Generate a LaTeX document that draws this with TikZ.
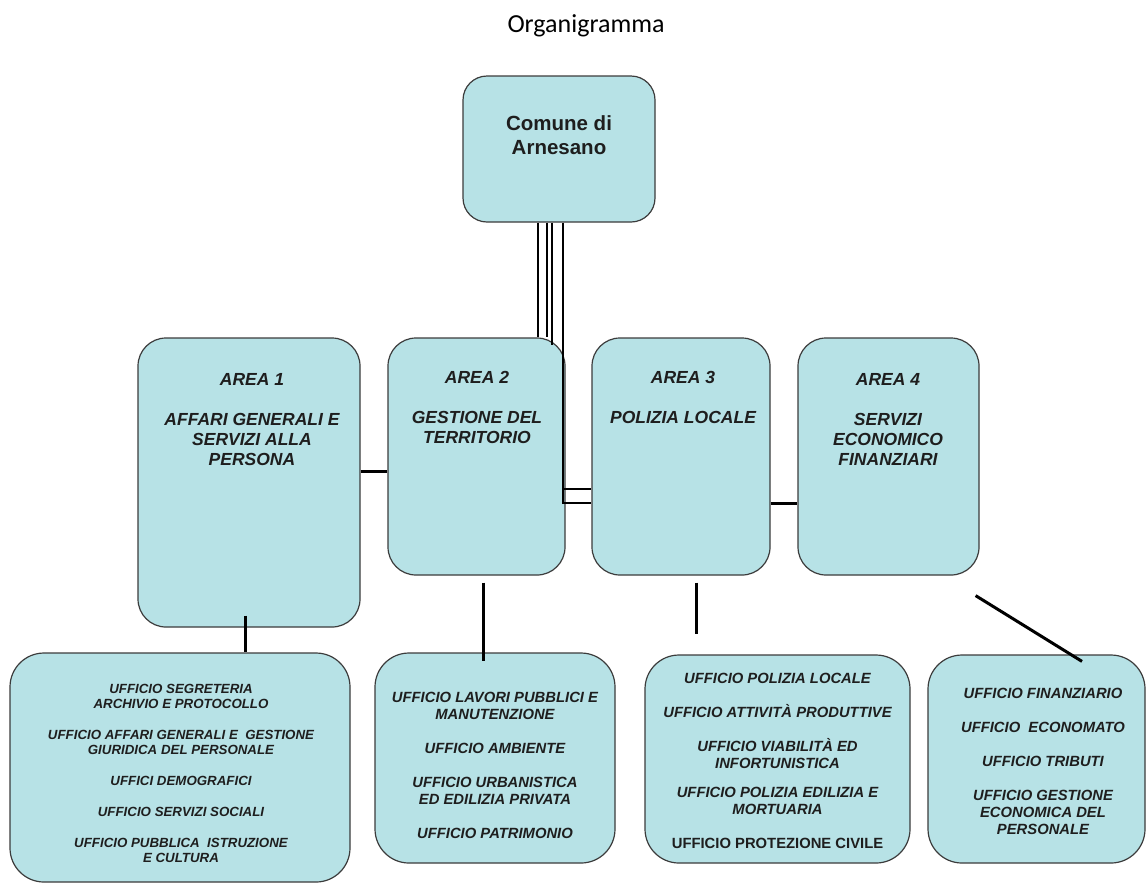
\documentclass[tikz,border=0pt]{standalone}
\usepackage{fontspec}
\setmainfont{Liberation Sans}
\newfontfamily\titlefont{Carlito}
\usetikzlibrary{positioning, calc}
\definecolor{boxcyan}{RGB}{183, 226, 230}
\definecolor{boxedge}{RGB}{60, 60, 60}
\definecolor{inkgray}{RGB}{30, 30, 30}
\tikzset{
  orgbox/.style={draw=boxedge, fill=boxcyan, line width=1.2pt, rounded corners=28pt, inner sep=0pt},
  wire/.style={black, line width=3pt},
  thinwire/.style={black, line width=2pt},
  areatext/.style={font=\fontsize{17.5}{20}\selectfont\bfseries\itshape, text=inkgray, align=center, anchor=north, inner sep=0pt},
  uffreg/.style={font=\fontsize{14.8}{17}\selectfont\bfseries\itshape, text=inkgray, align=center, anchor=north, inner sep=0pt},
}

\begin{document}
\begin{tikzpicture}[x=1pt, y=-1pt]
  \fill[white] (0,0) rectangle (1147,884);
  \useasboundingbox (0,0) rectangle (1147,884);

  \node[font=\titlefont\fontsize{26}{30}\selectfont, anchor=base] (title) at (586, 32) {Organigramma};

  % Comune
  \node[orgbox, rounded corners=24pt, minimum width=192pt, minimum height=146pt] (com) at (559, 149) {};
  \node[font=\fontsize{20.5}{24}\selectfont\bfseries, text=inkgray, align=center, anchor=north, inner sep=0pt] (comtext) at (559, 115.5) {Comune di\\Arnesano};

  % Aree
  \node[orgbox, minimum width=222pt, minimum height=289pt] (a1) at (249, 482.5) {};
  \node[orgbox, minimum width=177pt, minimum height=237pt] (a2) at (476.5, 456.5) {};
  \node[orgbox, minimum width=178pt, minimum height=237pt] (a3) at (681, 456.5) {};
  \node[orgbox, minimum width=181pt, minimum height=237pt] (a4) at (888.5, 456.5) {};

  \node[areatext] (a1text) at (252, 373.5) {AREA 1\\[20pt]AFFARI GENERALI E\\SERVIZI ALLA\\PERSONA};
  \node[areatext] (a2text) at (477, 371.5) {AREA 2\\[20pt]GESTIONE DEL\\TERRITORIO};
  \node[areatext] (a3text) at (683, 371.5) {AREA 3\\[20pt]POLIZIA LOCALE};
  \node[areatext] (a4text) at (888, 373.5) {AREA 4\\[20pt]SERVIZI\\ECONOMICO\\FINANZIARI};

  % Uffici
  \node[orgbox, rounded corners=34pt, minimum width=340pt, minimum height=229pt] (u1) at (180, 767.5) {};
  \node[orgbox, rounded corners=34pt, minimum width=240pt, minimum height=210pt] (u2) at (495, 758) {};
  \node[orgbox, rounded corners=34pt, minimum width=265pt, minimum height=208pt] (u3) at (777.5, 759) {};
  \node[orgbox, rounded corners=34pt, minimum width=217pt, minimum height=208pt] (u4) at (1036.5, 759) {};

  \node[uffreg, font=\fontsize{13.3}{15}\selectfont\bfseries\itshape] (u1text) at (181, 684) {UFFICIO SEGRETERIA\\ARCHIVIO E PROTOCOLLO\\[16pt]UFFICIO AFFARI GENERALI E\ \ GESTIONE\\GIURIDICA DEL PERSONALE\\[16pt]UFFICI DEMOGRAFICI\\[16pt]UFFICIO SERVIZI SOCIALI\\[16pt]UFFICIO PUBBLICA\ \ ISTRUZIONE\\E CULTURA};
  \node[uffreg] (u2text) at (495, 691.5) {UFFICIO LAVORI PUBBLICI E\\MANUTENZIONE\\[17pt]UFFICIO AMBIENTE\\[17pt]UFFICIO URBANISTICA\\ED EDILIZIA PRIVATA\\[17pt]UFFICIO PATRIMONIO};
  \node[uffreg] (u3text) at (777.5, 672.5) {UFFICIO POLIZIA LOCALE\\[17pt]UFFICIO ATTIVITÀ PRODUTTIVE\\[17pt]UFFICIO VIABILITÀ ED\\INFORTUNISTICA\\[12pt]UFFICIO POLIZIA EDILIZIA E\\MORTUARIA\\[17pt]{\upshape UFFICIO PROTEZIONE CIVILE}};
  \node[uffreg] (u4text) at (1043, 687.5) {UFFICIO FINANZIARIO\\[17pt]UFFICIO\ \ ECONOMATO\\[17pt]UFFICIO TRIBUTI\\[17pt]UFFICIO GESTIONE\\ECONOMICA DEL\\PERSONALE};

  % Collegamenti dal Comune
  \draw[thinwire] ([xshift=-21pt]com.south) -- ([xshift=-21pt]com.south |- a2.north);
  \draw[thinwire] ([xshift=-12pt]com.south) -- ([xshift=-12pt]com.south |- a2.north);
  \draw[thinwire] ([xshift=-7pt]com.south) -- ([xshift=-7pt,yshift=-8pt]com.south |- a2.north);
  \draw[thinwire] ([xshift=4pt]com.south) |- ([yshift=-46.5pt]a3.west);
  \draw[thinwire] ([xshift=4pt]com.south |- 0,489) -- ([yshift=-32.5pt]a3.west);

  % Collegamenti tra le aree
  \draw[wire] ([yshift=11.5pt]a1.east) -- ([yshift=11.5pt]a1.east -| a2.west);
  \draw[wire] ([yshift=-46.5pt]a3.east) -- ([yshift=-46.5pt]a3.east -| a4.west);

  % Collegamenti verso gli uffici
  \draw[wire] ([xshift=-4pt, yshift=12pt]a1.south) -- ([xshift=-4pt]a1.south |- u1.north);
  \draw[wire] ([xshift=6.5pt, yshift=-7pt]a2.south) -- ([xshift=-12pt, yshift=-9pt]u2.north);
  \draw[wire] ([xshift=15pt, yshift=-7pt]a3.south) -- ([xshift=-81.5pt, yshift=20pt]u3.north);
  \draw[wire] ([xshift=-4pt, yshift=-20pt]a4.south east) -- ([xshift=45.5pt, yshift=-7pt]u4.north);
\end{tikzpicture}
\end{document}
